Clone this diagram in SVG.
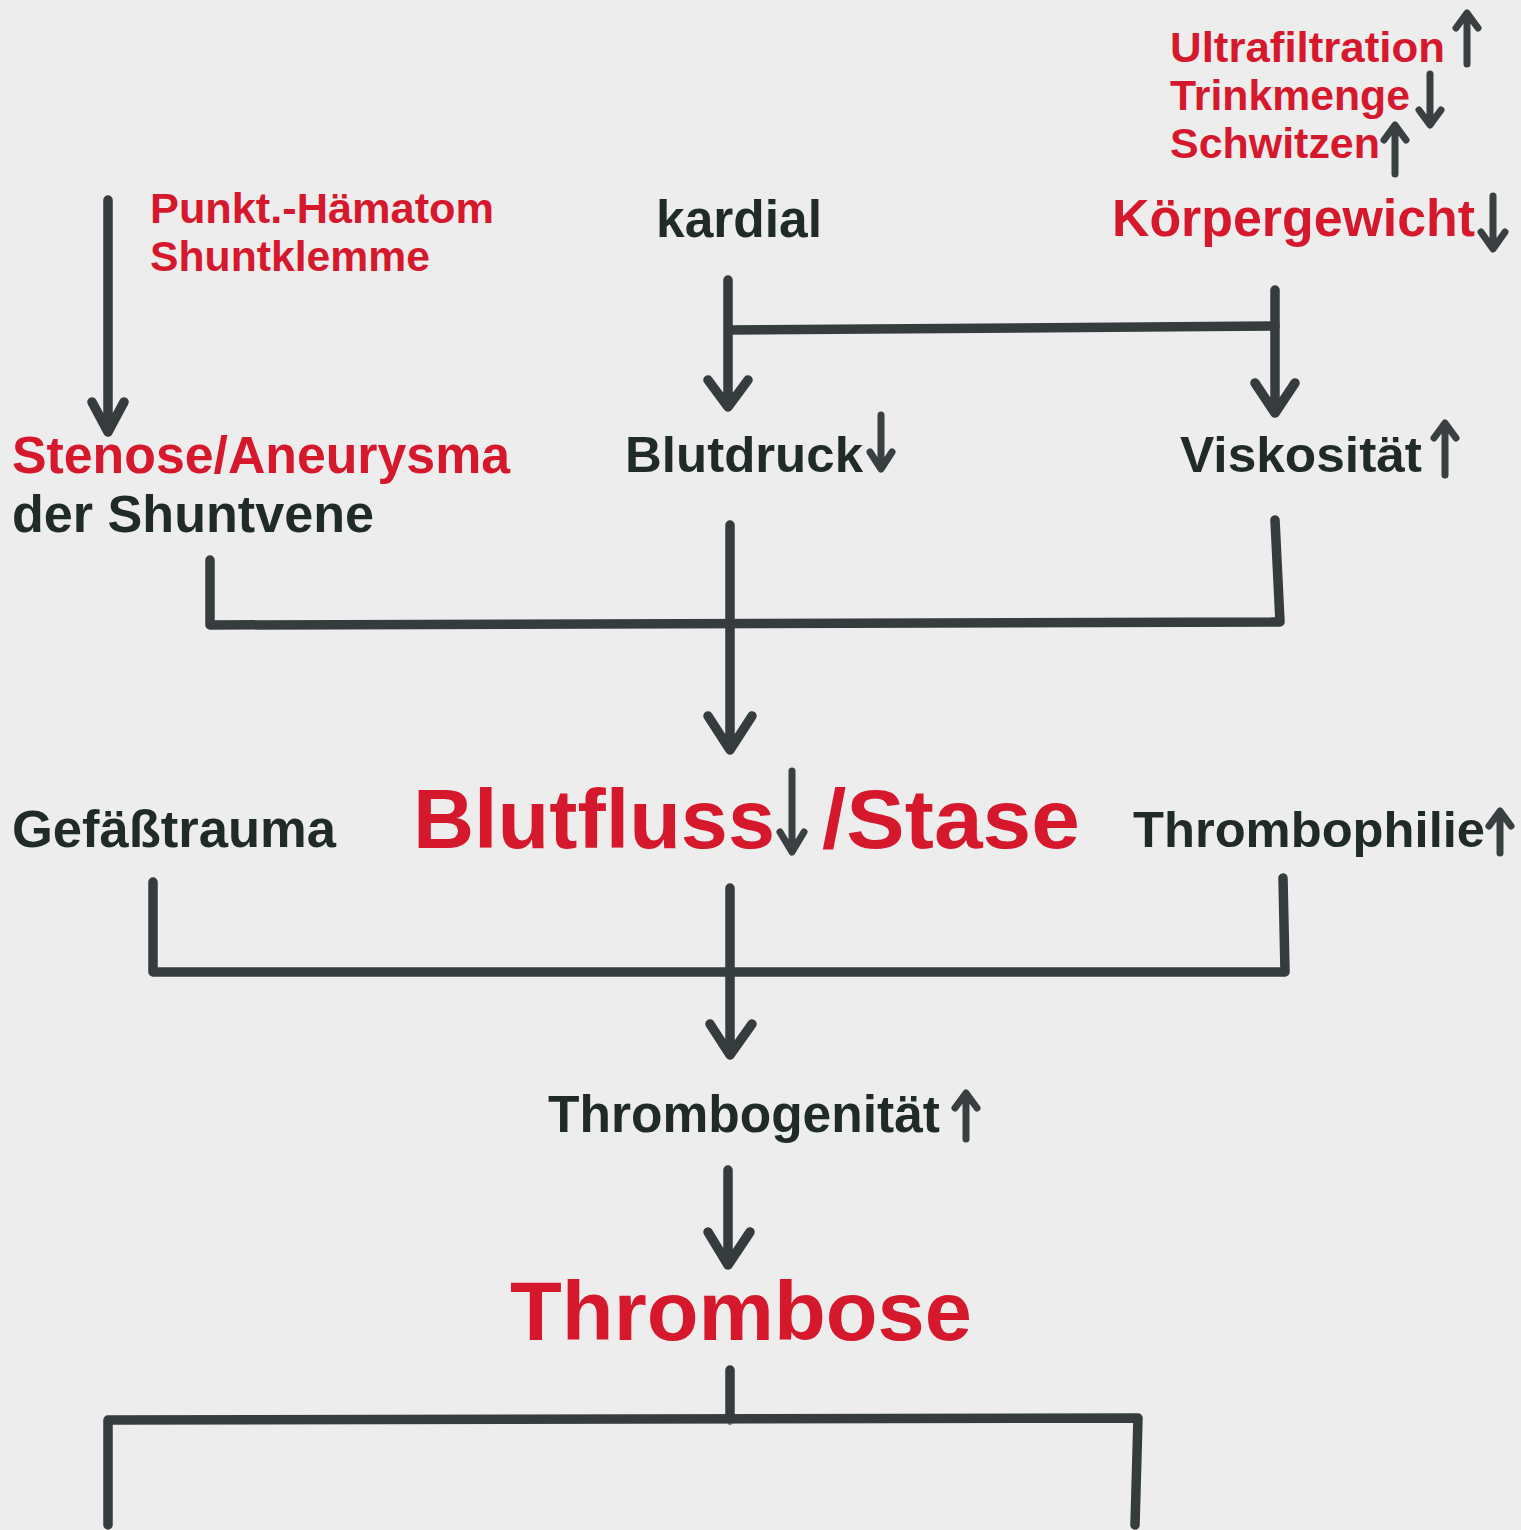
<svg xmlns="http://www.w3.org/2000/svg" width="1521" height="1530" viewBox="0 0 1521 1530">
<style>
text{font-family:"Liberation Sans",Arial,sans-serif;font-weight:bold}
.r{fill:#d5182c}
.d{fill:#1f2a29}
.ln{fill:none;stroke:#363c3d;stroke-width:9.5;stroke-linecap:round;stroke-linejoin:round}
.sm{fill:none;stroke:#3a4041;stroke-width:7;stroke-linecap:round;stroke-linejoin:round}
</style>
<rect width="1521" height="1530" fill="#ededee"/>
<g id="connectors">
<path class="ln" d="M108,200 L108,430 M92,402 L108,432 L124,402"/>
<path class="ln" d="M728,280 L728,405 M708,380 L728,407 L748,380 M728,330 L1275,326"/>
<path class="ln" d="M1275,290 L1275,411 M1255,383 L1275,413 L1295,383"/>
<path class="ln" d="M210,560 L210,625 L1280,622 L1275,520"/>
<path class="ln" d="M730,525 L730,748 M708,716 L730,750 L752,716"/>
<path class="ln" d="M153,882 L153,972 L1285,972 L1283,878"/>
<path class="ln" d="M730,888 L730,1052 M710,1024 L730,1055 L752,1024"/>
<path class="ln" d="M728,1170 L728,1262 M708,1232 L728,1265 L750,1232"/>
<path class="ln" d="M730,1370 L730,1420 M108,1525 L108,1420 L1138,1418 L1135,1525"/>
</g>
<g id="ultrafiltration">
<text class="r" x="1170" y="62" font-size="43" textLength="275" lengthAdjust="spacingAndGlyphs">Ultrafiltration</text>
<path class="sm" d="M1467,64 L1467,14 M1456,28 L1467,13 L1478,28"/>
</g>
<g id="trinkmenge">
<text class="r" x="1170" y="110" font-size="43" textLength="240" lengthAdjust="spacingAndGlyphs">Trinkmenge</text>
<path class="sm" d="M1430,74 L1430,124 M1419,110 L1430,125 L1441,110"/>
</g>
<g id="schwitzen">
<text class="r" x="1170" y="158" font-size="43" textLength="210" lengthAdjust="spacingAndGlyphs">Schwitzen</text>
<path class="sm" d="M1395,174 L1395,126 M1384,140 L1395,125 L1406,140"/>
</g>
<g id="koerpergewicht">
<text class="r" x="1112" y="236" font-size="51" textLength="363" lengthAdjust="spacingAndGlyphs">Körpergewicht</text>
<path class="sm" d="M1493,196 L1493,248 M1481,232 L1493,249 L1505,232"/>
</g>
<g id="punkt">
<text class="r" x="150" y="223" font-size="42" textLength="344" lengthAdjust="spacingAndGlyphs">Punkt.-Hämatom</text>
<text class="r" x="150" y="271" font-size="42" textLength="280" lengthAdjust="spacingAndGlyphs">Shuntklemme</text>
</g>
<g id="kardial">
<text class="d" x="656" y="237" font-size="51" textLength="166" lengthAdjust="spacingAndGlyphs">kardial</text>
</g>
<g id="stenose">
<text class="r" x="12" y="473" font-size="51" textLength="498" lengthAdjust="spacingAndGlyphs">Stenose/Aneurysma</text>
<text class="d" x="12" y="532" font-size="51" textLength="362" lengthAdjust="spacingAndGlyphs">der Shuntvene</text>
</g>
<g id="blutdruck">
<text class="d" x="625" y="472" font-size="50" textLength="238" lengthAdjust="spacingAndGlyphs">Blutdruck</text>
<path class="sm" d="M881,415 L881,468 M870,452 L881,469 L892,452"/>
</g>
<g id="viskositaet">
<text class="d" x="1180" y="472" font-size="50" textLength="242" lengthAdjust="spacingAndGlyphs">Viskosität</text>
<path class="sm" d="M1445,475 L1445,424 M1434,438 L1445,423 L1456,438"/>
</g>
<g id="gefaesstrauma">
<text class="d" x="12" y="847" font-size="51" textLength="324" lengthAdjust="spacingAndGlyphs">Gefäßtrauma</text>
</g>
<g id="blutfluss">
<text class="r" x="413" y="848" font-size="84" textLength="362" lengthAdjust="spacingAndGlyphs">Blutfluss</text>
<path class="sm" d="M792,771 L792,851 M780,832 L792,852 L804,832"/>
<text class="r" x="822" y="848" font-size="84" textLength="258" lengthAdjust="spacingAndGlyphs">/Stase</text>
</g>
<g id="thrombophilie">
<text class="d" x="1133" y="847" font-size="50" textLength="352" lengthAdjust="spacingAndGlyphs">Thrombophilie</text>
<path class="sm" d="M1500,853 L1500,812 M1489,826 L1500,811 L1511,826"/>
</g>
<g id="thrombogenitaet">
<text class="d" x="548" y="1132" font-size="51" textLength="392" lengthAdjust="spacingAndGlyphs">Thrombogenität</text>
<path class="sm" d="M966,1139 L966,1094 M955,1108 L966,1093 L977,1108"/>
</g>
<g id="thrombose">
<text class="r" x="510" y="1340" font-size="84" textLength="462" lengthAdjust="spacingAndGlyphs">Thrombose</text>
</g>
</svg>
